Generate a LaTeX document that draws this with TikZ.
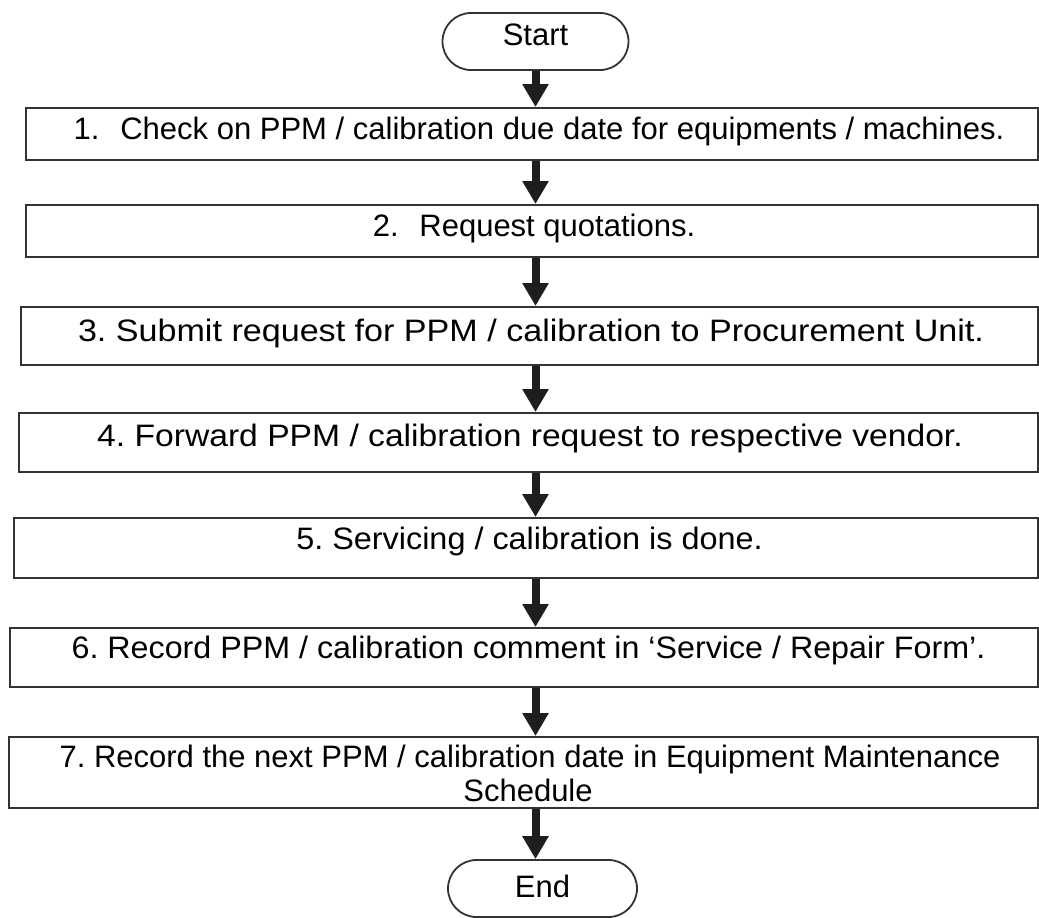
\documentclass[tikz,border=0pt]{standalone}
\usepackage{fontspec}
\usepackage{graphicx}
\setmainfont{Liberation Sans}
\usetikzlibrary{arrows.meta}
\definecolor{ink}{HTML}{1E1E1E}
\definecolor{edge}{HTML}{333333}
\frenchspacing
\begin{document}
\begin{tikzpicture}[x=1pt,y=-1pt,
  stepbox/.style={draw=edge, line width=2pt, rectangle, inner sep=0pt},
  term/.style={draw=edge, line width=1.8pt, rounded corners=28.5pt,
    minimum height=57pt, inner sep=0pt, text depth=0pt,
    font=\fontsize{31}{36}\selectfont},
  txt/.style={anchor=base, inner sep=0pt, font=\fontsize{31}{36}\selectfont},
  flow/.style={draw=ink, line width=8pt, -{Triangle[width=25pt,length=23pt]}}]
\useasboundingbox (0,0) rectangle (1039,918);

% terminators
\node[term, minimum width=186pt, text height=7pt] (start) at (535.5,41.5) {Start};
\node[term, minimum width=189pt, text height=17pt] (end) at (542.5,888.5) {End};

% process boxes
\node[stepbox, minimum width=1012pt, minimum height=52pt] (b1) at (532,134) {};
\node[stepbox, minimum width=1012pt, minimum height=52pt] (b2) at (532,231) {};
\node[stepbox, minimum width=1017pt, minimum height=58pt] (b3) at (529.5,336) {};
\node[stepbox, minimum width=1019pt, minimum height=59pt] (b4) at (528.5,442.5) {};
\node[stepbox, minimum width=1024pt, minimum height=60pt] (b5) at (526,548) {};
\node[stepbox, minimum width=1028pt, minimum height=59pt] (b6) at (524,657.5) {};
\node[stepbox, minimum width=1029pt, minimum height=71pt] (b7) at (523.5,772.5) {};

% step texts (some lines are set slightly wider)
\node[txt] (t1) at (539,139) {1.\hspace{0.67em}Check on PPM / calibration due date for equipments / machines.};
\node[txt] (t2) at (534,236) {2.\hspace{0.67em}Request quotations.};
\node[txt] (t3) at (531,341) {\scalebox{1.10}[1]{3. Submit request for PPM / calibration to Procurement Unit.}};
\node[txt] (t4) at (530,446) {\scalebox{1.085}[1]{4. Forward PPM / calibration request to respective vendor.}};
\node[txt] (t5) at (529.5,549) {\scalebox{1.045}[1]{5. Servicing / calibration is done.}};
\node[txt] (t6) at (528.5,658) {\scalebox{1.04}[1]{6. Record PPM / calibration comment in `Service / Repair Form'.}};
\node[txt] (t7a) at (530,767) {7. Record the next PPM / calibration date in Equipment Maintenance};
\node[txt] (t7b) at (528,801) {Schedule};

% connectors
\draw[flow] (start.south) -- (start.south |- b1.north);
\draw[flow] (b1.south -| start) -- (b2.north -| start);
\draw[flow] (b2.south -| start) -- (b3.north -| start);
\draw[flow] (b3.south -| start) -- (b4.north -| start);
\draw[flow] (b4.south -| start) -- (b5.north -| start);
\draw[flow] (b5.south -| start) -- (b6.north -| start);
\draw[flow] (b6.south -| start) -- (b7.north -| start);
\draw[flow] (b7.south -| start) -- (end.north -| start);
\end{tikzpicture}
\end{document}
